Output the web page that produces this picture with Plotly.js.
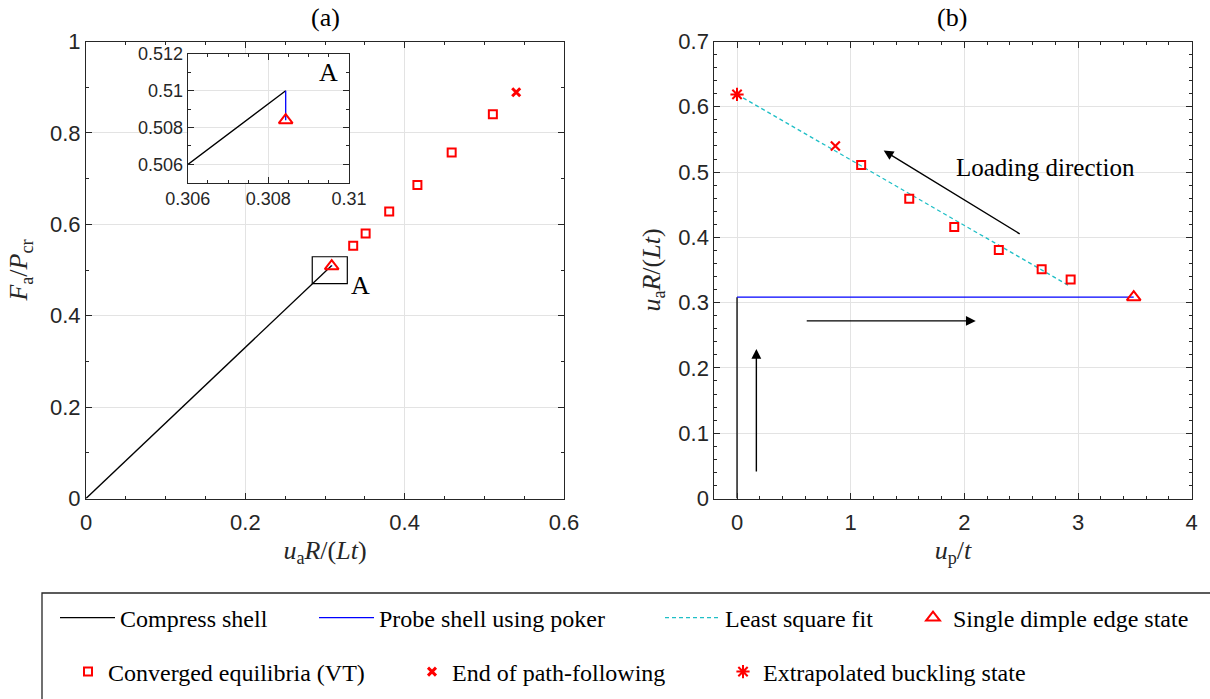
<!DOCTYPE html>
<html>
<head>
<meta charset="utf-8">
<script src="https://cdn.plot.ly/plotly-3.0.1.min.js"></script>
<style>html,body{margin:0;padding:0;background:#fff;}#chart{width:1210px;height:699px;}</style>
</head>
<body>
<div id="chart"></div>
<script>
// ---------- data ----------
// Panel (a): F_a/P_cr versus u_a R/(Lt)
const compressAX = [0, 0.30843];
const compressAY = [0, 0.5100];
const probeAX = [0.30843, 0.30843];
const probeAY = [0.5100, 0.5084];
const edgeAX = [0.30843];
const edgeAY = [0.5084];
const convUa = [0.3354, 0.351, 0.3806, 0.416, 0.459, 0.5107];   // u_a R/(Lt)
const convF = [0.553, 0.580, 0.628, 0.686, 0.757, 0.841];      // F_a/P_cr
const endUa = [0.540];
const endF = [0.889];
// Panel (b): u_a R/(Lt) versus u_p/t
const convUp = [2.935, 2.68, 2.303, 1.911, 1.515, 1.092];
const endUp = [0.865];
const compressBX = [0, 0];
const compressBY = [0, 0.3084];
const probeBX = [0, 3.49];
const probeBY = [0.3084, 0.3084];
const edgeBX = [3.49];
const edgeBY = [0.3084];
const lsqX = [0, 2.93];
const lsqY = [0.619, 0.325];
const extrapX = [0];
const extrapY = [0.619];
// zoom box "A" in panel (a)
const boxAX = [0.284, 0.328];
const boxAY = [0.470, 0.529];

const RED = '#ff0000', BLUE = '#0000ff', CYAN = '#1fbfc6', AXC = '#262626';
const SERIF = 'Liberation Serif, Times New Roman, serif';
const SANS = 'Liberation Sans, Arial, sans-serif';

const traces = [];
function lineTrace(x, y, xa, ya, color, name, legend, show, dash) {
  return {x, y, xaxis: xa, yaxis: ya, type: 'scatter', mode: 'lines', name,
    line: {color, width: 1.3, dash: dash || 'solid'}, showlegend: show, legend, hoverinfo: 'skip'};
}
function markTrace(x, y, xa, ya, symbol, size, lw, name, legend, show) {
  return {x, y, xaxis: xa, yaxis: ya, type: 'scatter', mode: 'markers', name,
    marker: {symbol, size, color: RED, line: {color: RED, width: lw}}, showlegend: show, legend, hoverinfo: 'skip'};
}
// panel (a)
traces.push(lineTrace(compressAX, compressAY, 'x', 'y', 'black', 'Compress shell', 'legend', true));
traces.push(lineTrace(probeAX, probeAY, 'x', 'y', BLUE, 'Probe shell using poker', 'legend2', true));
// panel (b)
traces.push(lineTrace(compressBX, compressBY, 'x2', 'y2', 'black', 'Compress shell', 'legend', false));
traces.push(lineTrace(probeBX, probeBY, 'x2', 'y2', BLUE, 'Probe shell using poker', 'legend2', false));
traces.push(lineTrace(lsqX, lsqY, 'x2', 'y2', CYAN, 'Least square fit', 'legend3', true, '4px,3px'));
traces.push(markTrace(edgeAX, edgeAY, 'x', 'y', 'triangle-up-open', 12, 2, 'Single dimple edge state', 'legend4', true));
traces.push(markTrace(convUa, convF, 'x', 'y', 'square-open', 8, 2, 'Converged equilibria (VT)', 'legend5', true));
traces.push(markTrace(endUa, endF, 'x', 'y', 'x-thin-open', 8, 3, 'End of path-following', 'legend6', true));
traces.push(markTrace(edgeBX, edgeBY, 'x2', 'y2', 'triangle-up-open', 12, 2, 'Single dimple edge state', 'legend4', false));
traces.push(markTrace(convUp, convUa, 'x2', 'y2', 'square-open', 8, 2, 'Converged equilibria (VT)', 'legend5', false));
traces.push(markTrace(endUp, endUa, 'x2', 'y2', 'x-thin-open', 9, 2.2, 'End of path-following', 'legend6', false));
traces.push(markTrace(extrapX, extrapY, 'x2', 'y2', 'asterisk-open', 11, 2, 'Extrapolated buckling state', 'legend7', true));
// inset
traces.push(lineTrace(compressAX, compressAY, 'x3', 'y3', 'black', 'Compress shell', 'legend', false));
traces.push(lineTrace(probeAX, probeAY, 'x3', 'y3', BLUE, 'Probe shell using poker', 'legend2', false));
traces.push(markTrace(edgeAX, edgeAY, 'x3', 'y3', 'triangle-up-open', 12, 2, 'Single dimple edge state', 'legend4', false));

function ax(range, domain, dtick, minor, anchor, tsize, lblOff, title, standoff) {
  const a = {range, domain, anchor, dtick, tick0: 0, showgrid: true, gridcolor: '#e3e3e3', gridwidth: 1,
    zeroline: false, showline: true, linecolor: AXC, linewidth: 1, mirror: 'allticks',
    ticks: 'inside', ticklen: 6, tickcolor: AXC, tickwidth: 1, ticklabelstandoff: lblOff,
    minor: {ticks: 'inside', ticklen: 3, dtick: minor, tickcolor: AXC, showgrid: false},
    tickfont: {family: SANS, size: tsize, color: AXC}, fixedrange: true};
  if (title) a.title = {text: title, font: {family: SERIF, size: 26, color: AXC}, standoff: standoff};
  return a;
}
const W = 1210, H = 699;
const px = v => v / W, py = v => (H - v) / H;

function leg(xpx, ypx, iw) {
  return {x: px(xpx), y: py(ypx), xanchor: 'left', yanchor: 'middle', orientation: 'h',
    bgcolor: 'rgba(0,0,0,0)', borderwidth: 0, itemwidth: iw,
    font: {family: SERIF, size: 24, color: 'black'}, itemclick: false, itemdoubleclick: false};
}

const layout = {
  width: W, height: H, autosize: false,
  margin: {l: 0, r: 0, t: 0, b: 0, pad: 0},
  paper_bgcolor: 'white', plot_bgcolor: 'white',
  showlegend: true,
  xaxis: ax([0, 0.6], [px(86), px(564)], 0.2, 0.05, 'y', 22, 4, '<i>u</i><sub>a</sub><i>R</i>/(<i>Lt</i>)', 6),
  yaxis: ax([0, 1], [py(498.5), py(41.5)], 0.2, 0.1, 'x', 22, 0, '<i>F</i><sub>a</sub>/<i>P</i><sub>cr</sub>', 14),
  xaxis2: ax([-0.2, 4], [px(714.3), px(1191.7)], 1, 0.2, 'y2', 22, 4, '<i>u</i><sub>p</sub>/<i>t</i>', 6),
  yaxis2: ax([0, 0.7], [py(498.5), py(41.5)], 0.1, 0.02, 'x2', 22, 0, '<i>u</i><sub>a</sub><i>R</i>/(<i>Lt</i>)', 10),
  xaxis3: ax([0.306, 0.31], [px(187.7), px(349)], 0.002, 0.0005, 'y3', 18, 0),
  yaxis3: ax([0.505, 0.512], [py(182.7), py(54)], 0.002, 0.001, 'x3', 18, 0),
  legend: leg(55, 618, 55),
  legend2: leg(314, 618, 55),
  legend3: leg(660, 618, 55),
  legend4: leg(913, 618, 30),
  legend5: leg(68, 672, 30),
  legend6: leg(412, 672, 30),
  legend7: leg(723, 672, 30),
  shapes: [
    {type: 'rect', xref: 'x', yref: 'y', x0: boxAX[0], x1: boxAX[1], y0: boxAY[0], y1: boxAY[1],
      line: {color: 'black', width: 1.2}, fillcolor: 'rgba(0,0,0,0)', layer: 'above'},
    {type: 'rect', xref: 'paper', yref: 'paper', x0: px(42), x1: px(1215), y0: py(705), y1: py(593),
      line: {color: AXC, width: 1.3}, fillcolor: 'rgba(0,0,0,0)'}
  ],
  annotations: [
    {text: '(a)', xref: 'paper', yref: 'paper', x: px(325), y: py(18), showarrow: false,
      font: {family: SERIF, size: 26, color: 'black'}, xanchor: 'center', yanchor: 'middle'},
    {text: '(b)', xref: 'paper', yref: 'paper', x: px(952), y: py(18), showarrow: false,
      font: {family: SERIF, size: 26, color: 'black'}, xanchor: 'center', yanchor: 'middle'},
    {text: 'A', xref: 'x', yref: 'y', x: 0.3445, y: 0.467, showarrow: false,
      font: {family: SERIF, size: 26, color: 'black'}},
    {text: 'A', xref: 'x3', yref: 'y3', x: 0.30948, y: 0.51097, showarrow: false,
      font: {family: SERIF, size: 26, color: 'black'}},
    {text: 'Loading direction', xref: 'x2', yref: 'y2', x: 2.71, y: 0.507, showarrow: false,
      font: {family: SERIF, size: 25, color: 'black'}},
    {text: '', xref: 'x2', yref: 'y2', axref: 'x2', ayref: 'y2', x: 0.17, y: 0.229, ax: 0.17, ay: 0.039,
      showarrow: true, arrowhead: 2, arrowsize: 1.4, arrowwidth: 1.4, arrowcolor: 'black', standoff: 0},
    {text: '', xref: 'x2', yref: 'y2', axref: 'x2', ayref: 'y2', x: 2.1, y: 0.272, ax: 0.6, ay: 0.272,
      showarrow: true, arrowhead: 2, arrowsize: 1.4, arrowwidth: 1.4, arrowcolor: 'black', standoff: 0},
    {text: '', xref: 'x2', yref: 'y2', axref: 'x2', ayref: 'y2', x: 1.29, y: 0.533, ax: 2.5, ay: 0.404,
      showarrow: true, arrowhead: 2, arrowsize: 1.4, arrowwidth: 1.4, arrowcolor: 'black', standoff: 0}
  ]
};

Plotly.newPlot('chart', traces, layout, {displayModeBar: false, staticPlot: true});
</script>
</body>
</html>
